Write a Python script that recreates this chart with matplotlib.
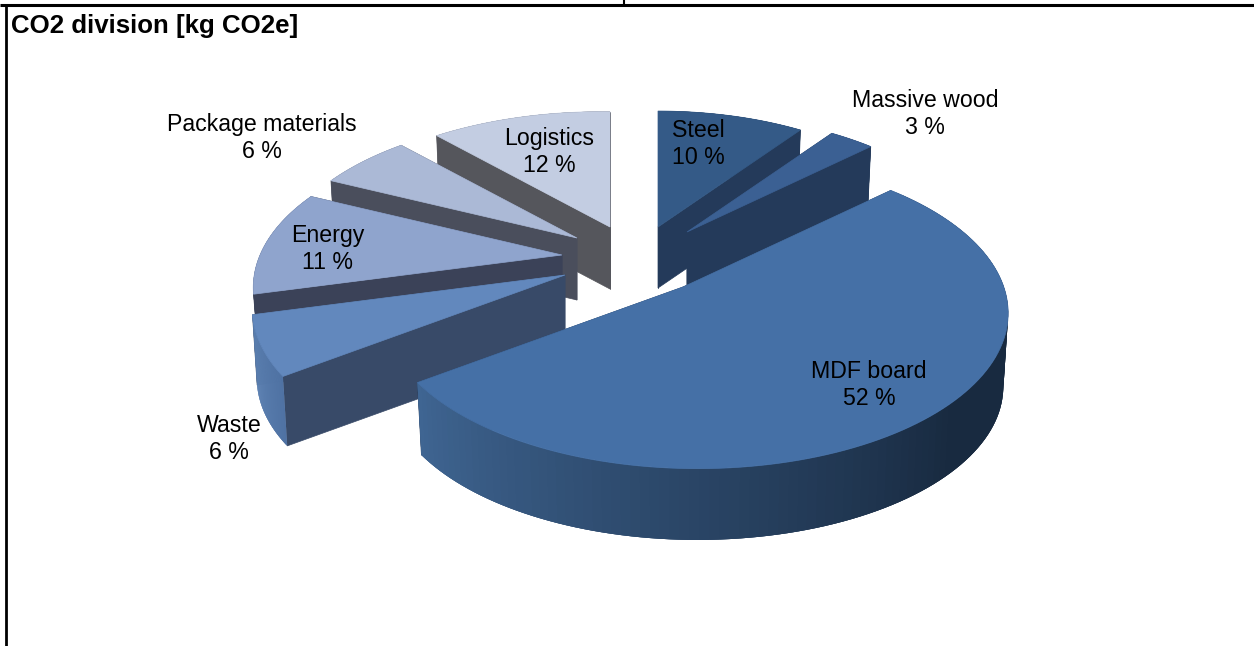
import numpy as np
import matplotlib
matplotlib.use("Agg")
import matplotlib.pyplot as plt
from matplotlib.colors import to_rgb

plt.rcParams['font.family'] = ['Liberation Sans', 'DejaVu Sans']

# chart data
labels = ["Steel", "Massive wood", "MDF board", "Waste", "Energy", "Package materials", "Logistics"]
shares = [10, 3, 52, 6, 11, 6, 12]
title = "CO2 division [kg CO2e]"

# look of each slice, same order as labels
top_colors = ["#345a87", "#3b6093", "#4570a6", "#6288bd", "#8fa4cd", "#abb9d6", "#c3cde2"]
wall_colors = ["#243a5a", "#243a5a", "#243a5a", "#384a68", "#3b4258", "#4a4e5c", "#55565c"]
rim_start = ["#243a5a", "#243a5a", "#182a40", "#4f72a3", "#3b4258", "#4a4e5c", "#55565c"]
rim_end = ["#243a5a", "#243a5a", "#3f6592", "#5f84b5", "#3b4258", "#4a4e5c", "#55565c"]
rim_hold = [0, 0, 0.45, 0, 0, 0, 0]

# exploded pie layout in picture pixels
center = (625, 255)
offset_x = [33, 62, 58, -60, -63, -48, -15]
offset_y = [-28, -23, 32, 20, 0, -17, -28]
radius = [283, 288, 308, 306, 302, 296, 298]
depth = [61, 56, 74, 71, 60, 62, 62]
persp = [0.208, 0.208, 0.16, 0.208, 0.208, 0.208, 0.28]
tilt = [0, 0, -0.04, 0, 0, 0, 0.04]
flatten = 0.495
bottom_scale = 0.985

# painter's order: back slices first
draw_order = [6, 0, 1, 5, 4, 3, 2]

label_x = [698, 925, 869, 229, 328, 262, 549]
label_y = [144, 114, 385, 439, 249, 138, 152]


def rim_points(theta, r, k, m):
    # position on the tilted disc, clockwise from 12 o'clock, relative to the slice tip
    u = np.sin(theta)
    v = np.cos(theta)
    w = 1 + k * v + m * u
    return r * u / w, -r * flatten * v / w


def draw_slice(ax, i, t0, t1):
    ax_, ay_ = center[0] + offset_x[i], center[1] + offset_y[i]
    d = depth[i]
    n = 120
    theta = np.linspace(t0, t1, n)
    dx, dy = rim_points(theta, radius[i], persp[i], tilt[i])
    top_x, top_y = ax_ + dx, ay_ + dy
    bot_x, bot_y = ax_ + dx * bottom_scale, ay_ + d + dy * bottom_scale

    # flat inner walls
    for j in (0, -1):
        ax.fill([ax_, top_x[j], bot_x[j], ax_], [ay_, top_y[j], bot_y[j], ay_ + d],
                color=wall_colors[i], lw=0.5)

    # outer wall in short overlapping strips, to get the shading without seams
    c0 = np.array(to_rgb(rim_start[i]))
    c1 = np.array(to_rgb(rim_end[i]))
    hold = rim_hold[i]
    for j in range(n - 1):
        f = j / (n - 2)
        col = c0 + (c1 - c0) * max(0, (f - hold) / (1 - hold))
        k = min(j + 3, n - 1)
        ax.fill([top_x[j], top_x[j + 1], top_x[k], bot_x[k], bot_x[j + 1], bot_x[j]],
                [top_y[j], top_y[j + 1], top_y[k], bot_y[k], bot_y[j + 1], bot_y[j]],
                color=col, lw=0)

    # top face
    ax.fill(np.r_[ax_, top_x], np.r_[ay_, top_y], color=top_colors[i], lw=0.5)


def main():
    fig = plt.figure(figsize=(12.54, 6.46), dpi=100)
    ax = fig.add_axes([0, 0, 1, 1])
    ax.set_xlim(0, 1254)
    ax.set_ylim(646, 0)
    ax.axis("off")

    # table borders around the chart
    ax.plot([0, 1254], [5, 5], color="black", lw=2.2, solid_capstyle="butt")
    ax.plot([6, 6], [5, 646], color="black", lw=2.0, solid_capstyle="butt")
    ax.plot([624, 624], [0, 5], color="black", lw=1.5, solid_capstyle="butt")

    ax.text(11, 26, title, fontsize=18.6, fontweight="bold", ha="left", va="center")

    edges = np.r_[0, np.cumsum(shares)] / np.sum(shares) * 2 * np.pi
    for i in draw_order:
        draw_slice(ax, i, edges[i], edges[i + 1])

    for i in range(len(labels)):
        ax.text(label_x[i], label_y[i], "%s\n%d %%" % (labels[i], shares[i]),
                fontsize=16.7, ha="center", va="center", linespacing=1.22, color="black")

    fig.savefig("out.png", dpi=100)


if __name__ == "__main__":
    main()
